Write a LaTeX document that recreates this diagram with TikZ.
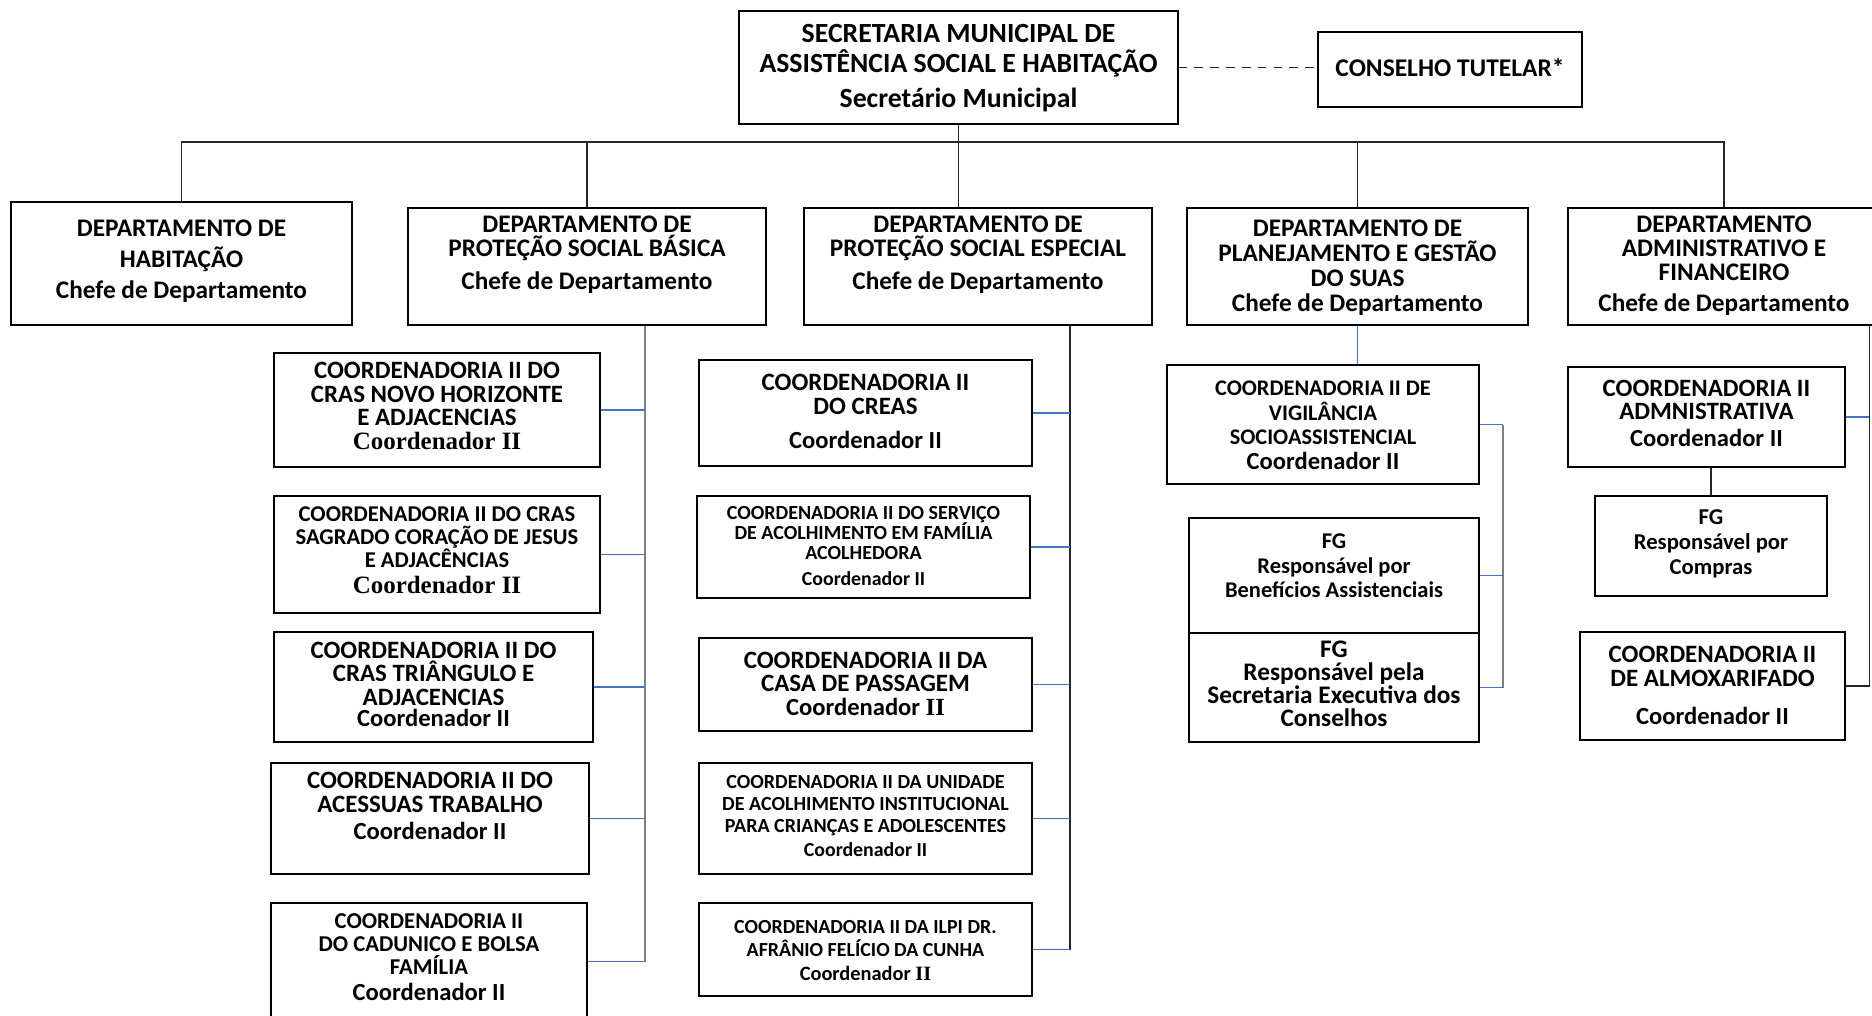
\documentclass[tikz,border=0pt]{standalone}
\usepackage{fontspec}
\setmainfont{Carlito}
\newfontfamily\tnr{Liberation Serif}
\usetikzlibrary{fit}
\definecolor{azulorg}{RGB}{68,114,196}
\newcommand\fonte[2]{\bfseries\fontsize{#1}{#2}\selectfont\lineskiplimit=-20pt\relax}
\newcommand\cargo[1][14]{{\fontsize{#1}{#1}\selectfont Coordenador II}}
\newcommand\cargotnr[1][14.2]{{\tnr\fontsize{#1}{#1}\selectfont Coordenador II}}
\newcommand\cargomisto[1][14]{{\fontsize{#1}{#1}\selectfont Coordenador {\tnr II}}}
\newcommand\sobe[1]{\rule[-#1]{0pt}{0pt}}

\begin{document}
\begin{tikzpicture}[
  x=0.02cm, y=-0.02cm,
  every node/.style={draw, inner sep=0pt, align=center, line width=0.7pt},
  grande/.style={font=\fonte{14.5}{17}},
  dep/.style={font=\fonte{14.4}{13.6}},
  media/.style={font=\fonte{14.2}{13.4}},
  miuda/.style={font=\fonte{11.4}{11.5}},
  desce/.style={text height=#1}
]
\tikzset{
  linha/.style={draw=black!85, line width=0.6pt},
  azul/.style={draw=azulorg, line width=0.6pt},
  tronco/.style={draw=gray, line width=0.8pt}
}
\useasboundingbox (0,0) rectangle (1872,1015);

% secretaria e departamentos
\node[font=\fonte{15.8}{17}, fit={(739,11) (1178,124)}, desce=17.8pt] (sec) {SECRETARIA MUNICIPAL DE\\ ASSISTÊNCIA SOCIAL E HABITAÇÃO\\[3pt] Secretário Municipal};
\node[grande, fit={(1318,32) (1582,107)}, desce=25.6pt] (cons) {CONSELHO TUTELAR*};
\node[dep, fit={(11,202) (352,325)}, desce=19.5pt] (hab) {DEPARTAMENTO DE\\[4pt] HABITAÇÃO\\[4pt] Chefe de Departamento};
\node[dep, fit={(408,208) (766,325)}] (psb) {DEPARTAMENTO DE\\ PROTEÇÃO SOCIAL BÁSICA\\[5pt] Chefe de Departamento\sobe{6.3pt}};
\node[dep, fit={(804,208) (1152,325)}] (pse) {DEPARTAMENTO DE\\ PROTEÇÃO SOCIAL ESPECIAL\\[5pt] Chefe de Departamento\sobe{6.3pt}};
\node[font=\fonte{14.4}{14.2}, fit={(1187,208) (1528,325)}, desce=16.4pt] (plan) {DEPARTAMENTO DE\\ PLANEJAMENTO E GESTÃO\\ DO SUAS\\ Chefe de Departamento};
\node[dep, fit={(1568,208) (1880,325)}, desce=14pt] (adm) {DEPARTAMENTO\\ ADMINISTRATIVO E\\ FINANCEIRO\\[4pt] Chefe de Departamento};

% protecao social basica
\node[media, fit={(274,353) (600,467)}, desce=14.6pt] (cras1) {COORDENADORIA II DO\\ CRAS NOVO HORIZONTE\\ E ADJACENCIAS\\ \cargotnr};
\node[font=\fonte{12.85}{13}, fit={(274,496) (600,613)}, desce=14.5pt] (cras2) {COORDENADORIA II DO CRAS\\ SAGRADO CORAÇÃO DE JESUS\\ E ADJACÊNCIAS\\[2pt] \cargotnr};
\node[media, fit={(274,632) (593,742)}, desce=14.8pt] (cras3) {COORDENADORIA II DO\\ CRAS TRIÂNGULO E\\ ADJACENCIAS\\[-1pt] \cargo};
\node[media, fit={(271,763) (589,874)}] (acess) {COORDENADORIA II DO\\ ACESSUAS TRABALHO\\[2pt] \cargo\sobe{4.8pt}};
\node[font=\fonte{12.9}{13}, fit={(271,903) (587,1020)}, desce=14.6pt] (cad) {COORDENADORIA II\\ DO CADUNICO E BOLSA\\ FAMÍLIA\\[2pt] \cargo};

% protecao social especial
\node[media, fit={(699,360) (1032,466)}, desce=17.6pt] (creas) {COORDENADORIA II\\ DO CREAS\\[6pt] \cargo};
\node[miuda, fit={(697,496) (1030,598)}, desce=13.3pt] (fam) {COORDENADORIA II DO SERVIÇO\\ DE ACOLHIMENTO EM FAMÍLIA\\ ACOLHEDORA\\[3pt] \cargo[11.3]};
\node[media, fit={(699,638) (1032,731)}, desce=17.2pt] (casa) {COORDENADORIA II DA\\ CASA DE PASSAGEM\\ \cargomisto};
\node[font=\fonte{11.4}{12.5}, fit={(699,763) (1032,874)}, desce=14.7pt] (uai) {COORDENADORIA II DA UNIDADE\\ DE ACOLHIMENTO INSTITUCIONAL\\ PARA CRIANÇAS E ADOLESCENTES\\[1pt] \cargo[11.3]};
\node[font=\fonte{11.35}{13.6}, fit={(699,903) (1032,996)}, desce=17.1pt] (ilpi) {COORDENADORIA II DA ILPI DR.\\ AFRÂNIO FELÍCIO DA CUNHA\\ \cargomisto[11.6]};

% planejamento e gestao
\node[font=\fonte{12.7}{14.2}, fit={(1167,365) (1479,484)}, desce=17.1pt] (vig) {COORDENADORIA II DE\\ VIGILÂNCIA\\ SOCIOASSISTENCIAL\\ \cargo};
\node[font=\fonte{12.8}{14}, fit={(1189,518) (1479,633)}] (benef) {FG\\ Responsável por\\ Benefícios Assistenciais\sobe{2.7pt}};
\node[font=\fonte{14.4}{13}, fit={(1189,633) (1479,742)}, desce=14.2pt] (secex) {FG\\ Responsável pela\\ Secretaria Executiva dos\\ Conselhos};

% administrativo e financeiro
\node[media, fit={(1568,367) (1845,467)}, desce=16.7pt] (admc) {COORDENADORIA II\\ ADMNISTRATIVA\\[2pt] \cargo};
\node[font=\fonte{12.9}{14}, fit={(1595,496) (1827,596)}, desce=16.4pt] (compras) {FG\\ Responsável por\\ Compras};
\node[media, fit={(1580,632) (1845,740)}, desce=17.6pt] (almox) {COORDENADORIA II\\ DE ALMOXARIFADO\\[8pt] \cargo};

% ligacoes
\coordinate (barra) at (0,142);
\draw[linha] (sec.south) -- (sec.south |- pse.north);
\draw[linha] (hab.north) |- (adm.north |- barra) -- (adm.north);
\foreach \d in {psb,plan} \draw[linha] (\d.north) -- (\d.north |- barra);
\draw[linha, dash pattern=on 5pt off 4pt] (sec.east) -- (sec.east -| cons.west);

\coordinate (t2) at (645,0);
\draw[tronco] (psb.south -| t2) -- (cad.east -| t2);
\foreach \c in {cras1,cras2,cras3,acess,cad} \draw[azul] (\c.east) -- (\c.east -| t2);

\coordinate (t3) at (1070,0);
\draw[linha] (pse.south -| t3) -- (ilpi.east -| t3);
\foreach \c in {creas,fam,casa,uai,ilpi} \draw[azul] (\c.east) -- (\c.east -| t3);

\draw[azul] (plan.south) -- (plan.south |- vig.north);
\coordinate (t4) at (1503,0);
\draw[tronco] (vig.east -| t4) -- (secex.east -| t4);
\foreach \c in {vig,benef,secex} \draw[azul] (\c.east) -- (\c.east -| t4);

\coordinate (t5) at (1869,0);
\draw[linha] (adm.south -| t5) -- (almox.east -| t5) -- (almox.east);
\draw[azul] (admc.east) -- (admc.east -| t5);
\draw[linha] (compras.north) -- (compras.north |- admc.south);
\end{tikzpicture}
\end{document}
